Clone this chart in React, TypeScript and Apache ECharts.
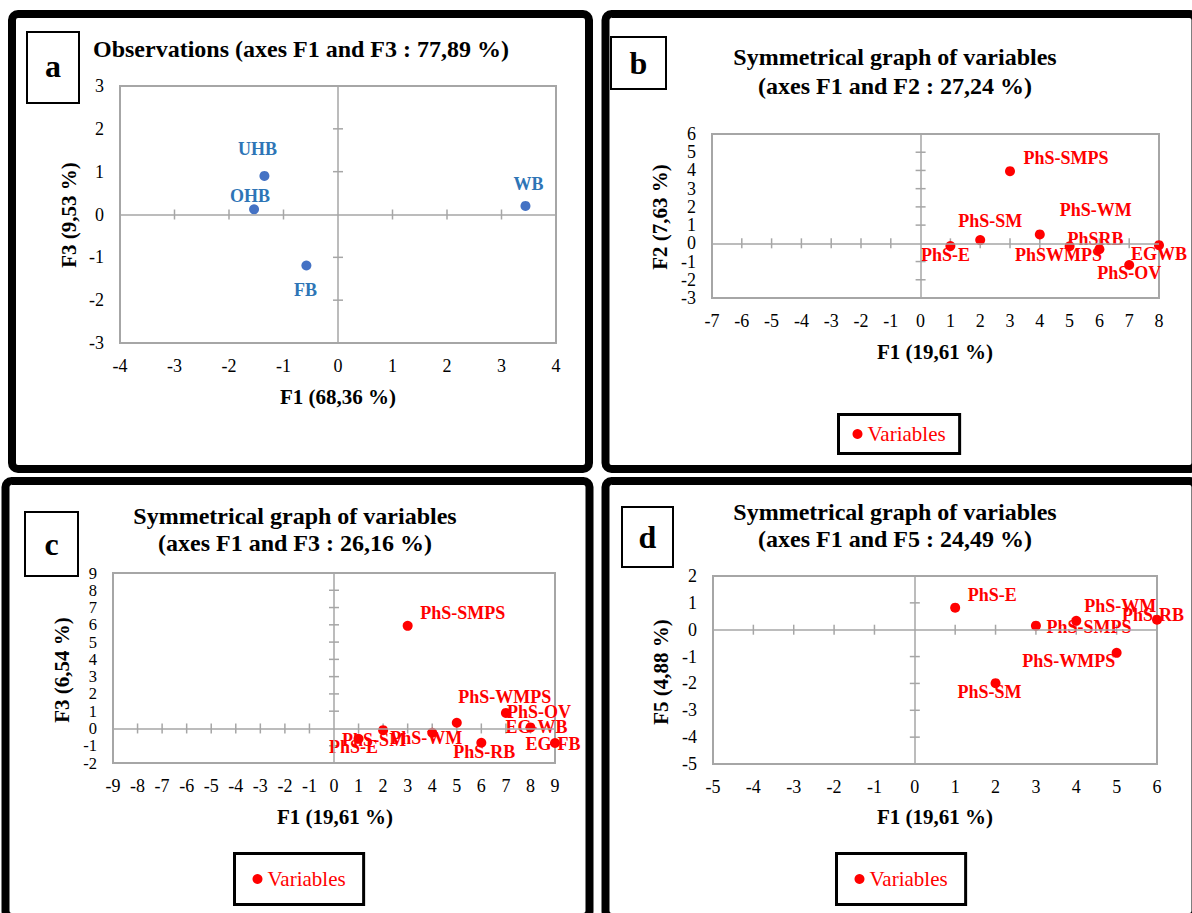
import React, { useEffect, useRef } from 'react';
import * as echarts from 'echarts';

// ---------- Panel a : observations (F1 x F3) ----------
const obsNames = ['UHB', 'OHB', 'WB', 'FB'];
const obsF1 = [-1.35, -1.54, 3.44, -0.58];
const obsF3 = [0.9, 0.12, 0.2, -1.19];

// ---------- Panel b : variables (F1 x F2) ----------
const varNamesB = ['PhS-E', 'PhS-SM', 'PhS-SMPS', 'PhS-WM', 'PhSWMPS', 'PhSRB', 'PhS-OV', 'EGWB'];
const varF1B = [1, 2, 3, 4, 5, 6, 7, 8];
const varF2B = [-0.15, 0.18, 3.96, 0.49, -0.16, -0.32, -1.19, -0.1];

// ---------- Panel c : variables (F1 x F3) ----------
const varNamesC = ['PhS-E', 'PhS-SM', 'PhS-SMPS', 'PhS-WM', 'PhS-WMPS', 'PhS-RB', 'PhS-OV', 'EG-WB', 'EG-FB'];
const varF1C = [1, 2, 3, 4, 5, 6, 7, 8, 9];
const varF3C = [-0.6, -0.1, 5.94, -0.25, 0.33, -0.83, 0.9, 0.06, -0.84];

// ---------- Panel d : variables (F1 x F5) ----------
const varNamesD = ['PhS-E', 'PhS-SM', 'PhS-SMPS', 'PhS-WM', 'PhS-WMPS', 'PhS-RB'];
const varF1D = [1, 2, 3, 4, 5, 6];
const varF5D = [0.82, -1.99, 0.15, 0.33, -0.86, 0.37];

// ---------- axis ranges ----------
const xRangeA = [-4, 4];
const yRangeA = [-3, 3];
const xRangeB = [-7, 8];
const yRangeB = [-3, 6];
const xRangeC = [-9, 9];
const yRangeC = [-2, 9];
const xRangeD = [-5, 6];
const yRangeD = [-5, 2];

// ---------- texts ----------
const titleA = 'Observations (axes F1 and F3 : 77,89 %)';
const titleB = ['Symmetrical graph of variables', '(axes F1 and F2 : 27,24 %)'];
const titleC = ['Symmetrical graph of variables', '(axes F1 and F3 : 26,16 %)'];
const titleD = ['Symmetrical graph of variables', '(axes F1 and F5 : 24,49 %)'];
const xTitleA = 'F1 (68,36 %)';
const yTitleA = 'F3 (9,53 %)';
const xTitleVar = 'F1 (19,61 %)';
const yTitleB = 'F2 (7,63 %)';
const yTitleC = 'F3 (6,54 %)';
const yTitleD = 'F5 (4,88 %)';
const legendName = 'Variables';

// ---------- label offsets (pixels, style only) ----------
const offA = [[-7, -27], [-4, -13], [3, -22], [-1, 25]];
const offB = [[-5, 9], [10, -19], [56, -13], [56, -24], [-11, 9], [-4, -10], [0, 8], [0, 9]];
const offC = [[-5, 8], [-9, 10], [55, -13], [-6, 5], [48, -26], [3, 9], [33, -1], [6, 0], [-2, 1]];
const offD = [[37, -13], [-6, 9], [53, 1], [44, -15], [-48, 8], [-4, -5]];

const FONT = "'Liberation Serif', 'Times New Roman', Times, serif";
const GRAY = '#a6a6a6';
const RED = '#ff0000';
const BLUE_PT = '#4472c4';
const BLUE_TXT = '#2e75b6';

function innerTicks(r: number[]) {
  const out: number[] = [];
  for (let v = r[0] + 1; v < r[1]; v++) if (v !== 0) out.push(v);
  return out;
}

function buildPanel(
  i: number,
  rect: { left: number; top: number; width: number; height: number },
  xr: number[],
  yr: number[],
  names: string[],
  xs: number[],
  ys: number[],
  offs: number[][],
  ptColor: string,
  txtColor: string,
  seriesName: string,
  yFontSize: number
) {
  const grid = {
    ...rect,
    show: true,
    borderColor: GRAY,
    borderWidth: 2,
    backgroundColor: 'transparent',
    containLabel: false,
  };
  const xAxis = {
    type: 'value',
    gridIndex: i,
    min: xr[0],
    max: xr[1],
    interval: 1,
    axisLine: { show: false },
    axisTick: { show: false },
    splitLine: { show: false },
    axisLabel: {
      fontSize: 18,
      fontFamily: FONT,
      color: '#000',
      margin: 14,
      showMinLabel: true,
      showMaxLabel: true,
      hideOverlap: false,
    },
  };
  const yAxis = {
    type: 'value',
    gridIndex: i,
    min: yr[0],
    max: yr[1],
    interval: 1,
    axisLine: { show: false },
    axisTick: { show: false },
    splitLine: { show: false },
    axisLabel: {
      fontSize: yFontSize,
      fontFamily: FONT,
      color: '#000',
      lineHeight: 12,
      margin: 16,
      showMinLabel: true,
      showMaxLabel: true,
      hideOverlap: false,
    },
  };
  const tickData: number[][] = [];
  innerTicks(xr).forEach((v) => tickData.push([v, 0, 0]));
  innerTicks(yr).forEach((v) => tickData.push([0, v, 1]));
  const ticks = {
    type: 'custom',
    xAxisIndex: i,
    yAxisIndex: i,
    silent: true,
    z: 2,
    data: tickData,
    renderItem: (_p: any, api: any) => {
      const p = api.coord([api.value(0), api.value(1)]);
      const horiz = api.value(2) === 1;
      return {
        type: 'line',
        shape: horiz
          ? { x1: p[0] - 5, y1: p[1], x2: p[0] + 5, y2: p[1] }
          : { x1: p[0], y1: p[1] - 5, x2: p[0], y2: p[1] + 5 },
        style: { stroke: GRAY, lineWidth: 1.5 },
      };
    },
  };
  const scatter = {
    type: 'scatter',
    name: seriesName,
    xAxisIndex: i,
    yAxisIndex: i,
    symbol: 'circle',
    symbolSize: 10,
    z: 3,
    itemStyle: { color: ptColor, opacity: 1 },
    data: names.map((n, k) => ({
      name: n,
      value: [xs[k], ys[k]],
      label: { offset: offs[k] },
    })),
    label: {
      show: true,
      position: 'inside',
      formatter: '{b}',
      color: txtColor,
      opacity: 1,
      fontSize: 18,
      fontWeight: 'bold',
      fontFamily: FONT,
    },
    emphasis: { disabled: true },
    markLine: {
      silent: true,
      symbol: 'none',
      label: { show: false },
      lineStyle: { color: GRAY, width: 1.5, type: 'solid', opacity: 1 },
      emphasis: { disabled: true },
      data: [{ xAxis: 0 }, { yAxis: 0 }],
    },
  };
  return { grid, xAxis, yAxis, series: [ticks, scatter] };
}

function txt(x: number, y: number, text: string, font: string, color = '#000', align = 'center', rotation = 0) {
  return {
    type: 'text',
    x,
    y,
    rotation,
    silent: true,
    z: 10,
    style: {
      text,
      font,
      fill: color,
      align,
      verticalAlign: 'middle',
      textAlign: align,
      textVerticalAlign: 'middle',
    },
  };
}

function frame(x: number, y: number, w: number, h: number, lw: number, r = 0) {
  return {
    type: 'rect',
    silent: true,
    z: 5,
    shape: { x, y, width: w, height: h, r },
    style: { fill: 'none', stroke: '#000', lineWidth: lw },
  };
}

export default function App() {
  const ref = useRef<HTMLDivElement>(null);
  useEffect(() => {
    if (!ref.current) return;
    const chart = echarts.init(ref.current, undefined, { renderer: 'svg' });

    const pA = buildPanel(0, { left: 120, top: 86, width: 436, height: 257 }, xRangeA, yRangeA, obsNames, obsF1, obsF3, offA, BLUE_PT, BLUE_TXT, 'Observations', 18);
    const pB = buildPanel(1, { left: 712, top: 134, width: 447, height: 164 }, xRangeB, yRangeB, varNamesB, varF1B, varF2B, offB, RED, RED, legendName, 18);
    const pC = buildPanel(2, { left: 113, top: 573, width: 442, height: 190 }, xRangeC, yRangeC, varNamesC, varF1C, varF3C, offC, RED, RED, legendName, 16.5);
    const pD = buildPanel(3, { left: 713, top: 576, width: 444, height: 188 }, xRangeD, yRangeD, varNamesD, varF1D, varF5D, offD, RED, RED, legendName, 18);
    const panels = [pA, pB, pC, pD];

    const TITLE = `bold 24px ${FONT}`;
    const AXT = `bold 21px ${FONT}`;
    const LET = `bold 32px ${FONT}`;

    const graphic: any[] = [
      // outer panel frames
      frame(12, 14, 577, 455, 8, 6),
      frame(605.5, 14, 590, 455, 8, 6),
      frame(5.5, 481, 584, 436, 8, 6),
      frame(605.5, 481, 590, 436, 8, 6),
      // letter boxes
      frame(27, 32, 52, 71, 2),
      frame(611, 37, 55, 52, 2),
      frame(25, 512, 53, 64, 2),
      frame(622, 507, 51, 60, 2),
      txt(53, 66, 'a', LET),
      txt(638.5, 63, 'b', LET),
      txt(51.5, 544, 'c', LET),
      txt(647.5, 537, 'd', LET),
      // titles
      txt(93, 49, titleA, TITLE, '#000', 'left'),
      txt(895, 57, titleB[0], TITLE),
      txt(895, 86, titleB[1], TITLE),
      txt(295, 516, titleC[0], TITLE),
      txt(295, 543, titleC[1], TITLE),
      txt(895, 512, titleD[0], TITLE),
      txt(895, 539, titleD[1], TITLE),
      // axis titles
      txt(338, 397, xTitleA, AXT),
      txt(69, 215, yTitleA, AXT, '#000', 'center', Math.PI / 2),
      txt(935, 352, xTitleVar, AXT),
      txt(660, 217, yTitleB, AXT, '#000', 'center', Math.PI / 2),
      txt(335, 817, xTitleVar, AXT),
      txt(62, 670, yTitleC, AXT, '#000', 'center', Math.PI / 2),
      txt(935, 817, xTitleVar, AXT),
      txt(661, 672, yTitleD, AXT, '#000', 'center', Math.PI / 2),
    ];

    const legendBase = {
      data: [{ name: legendName, icon: 'circle' }],
      selectedMode: false,
      itemWidth: 10,
      itemHeight: 10,
      borderColor: '#000',
      borderWidth: 3,
      backgroundColor: '#fff',
      textStyle: { fontSize: 21, fontFamily: FONT, color: RED },
    };

    chart.setOption({
      animation: false,
      backgroundColor: '#fff',
      grid: panels.map((p) => p.grid),
      xAxis: panels.map((p) => p.xAxis),
      yAxis: panels.map((p) => p.yAxis),
      series: panels.flatMap((p) => p.series),
      legend: [
        { ...legendBase, left: 838.5, top: 414.5, padding: [9, 14] },
        { ...legendBase, left: 234.5, top: 853.5, padding: [15, 18] },
        { ...legendBase, left: 836.5, top: 853.5, padding: [15, 18] },
      ],
      graphic,
    });

    return () => chart.dispose();
  }, []);

  return (
    <div
      ref={ref}
      style={{ position: 'absolute', left: 0, top: 0, width: 1192, height: 913, background: '#fff' }}
    />
  );
}
